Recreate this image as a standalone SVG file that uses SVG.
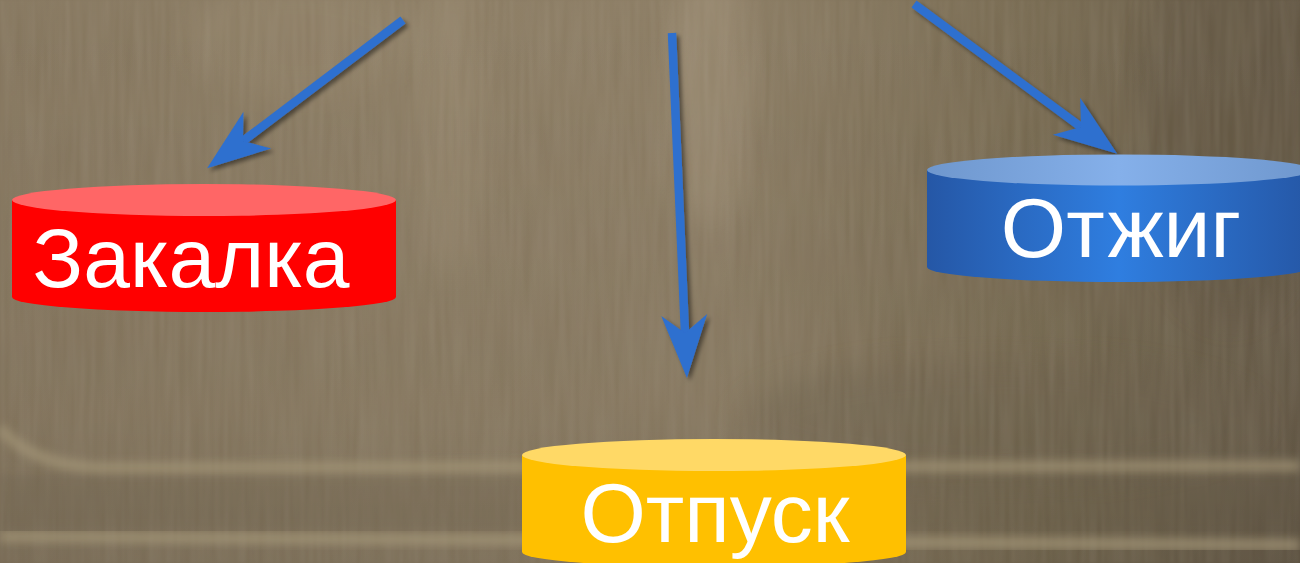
<svg xmlns="http://www.w3.org/2000/svg" width="1300" height="563" viewBox="0 0 1300 563">
  <defs>
    <style>
      .label { font-family: "Liberation Sans", Arial, sans-serif; font-size: 84px; fill: #ffffff; text-anchor: middle; }
      .conn { fill: none; stroke: #2e6fcf; stroke-width: 8.5; stroke-linecap: butt; marker-end: url(#head); }
    </style>
    <linearGradient id="bgBase" x1="0" y1="0" x2="1" y2="0">
      <stop offset="0" stop-color="#85765e"/>
      <stop offset="0.3" stop-color="#8a7b62"/>
      <stop offset="0.55" stop-color="#8b7c63"/>
      <stop offset="0.8" stop-color="#766950"/>
      <stop offset="1" stop-color="#665a47"/>
    </linearGradient>
    <linearGradient id="bgShade" x1="0" y1="0" x2="0" y2="1">
      <stop offset="0" stop-color="#000" stop-opacity="0"/>
      <stop offset="0.75" stop-color="#000" stop-opacity="0.04"/>
      <stop offset="1" stop-color="#000" stop-opacity="0.1"/>
    </linearGradient>
    <filter id="soft" x="-20%" y="-20%" width="140%" height="140%">
      <feGaussianBlur stdDeviation="14"/>
    </filter>
    <filter id="softBand" x="-5%" y="-50%" width="110%" height="200%">
      <feGaussianBlur stdDeviation="5"/>
    </filter>
    <filter id="grain" x="0" y="0" width="100%" height="100%">
      <feTurbulence type="fractalNoise" baseFrequency="0.2 0.01" numOctaves="2" seed="7" result="n"/>
      <feColorMatrix in="n" type="matrix" values="0 0 0 0 0.55  0 0 0 0 0.49  0 0 0 0 0.40  0 0 0 0.22 -0.04"/>
      <feGaussianBlur stdDeviation="0.8"/>
    </filter>
    <filter id="shadow" x="-20%" y="-20%" width="140%" height="140%">
      <feDropShadow dx="3" dy="3" stdDeviation="2" flood-color="#000" flood-opacity="0.45"/>
    </filter>
    <marker id="head" markerUnits="userSpaceOnUse" viewBox="-66 -26 70 52" markerWidth="70" markerHeight="52" refX="-45" refY="0" orient="auto">
      <path d="M0,0 L-63,-23 L-45,0 L-63,23 Z" fill="#2e6fcf"/>
    </marker>
    <!-- cylinder fills -->
    <linearGradient id="blueBody" x1="0" y1="0" x2="1" y2="0">
      <stop offset="0" stop-color="#2557a6"/>
      <stop offset="0.5" stop-color="#2f7ee0"/>
      <stop offset="1" stop-color="#2557a6"/>
    </linearGradient>
    <linearGradient id="blueTop" x1="0" y1="0" x2="1" y2="0">
      <stop offset="0" stop-color="#6f97cd"/>
      <stop offset="0.5" stop-color="#85b0ea"/>
      <stop offset="1" stop-color="#6f97cd"/>
    </linearGradient>
  </defs>

  <!-- board background -->
  <g id="background">
    <rect width="1300" height="563" fill="url(#bgBase)"/>
    <ellipse cx="710" cy="90" rx="40" ry="140" fill="#a3937a" opacity="0.45" filter="url(#soft)"/>
    <ellipse cx="450" cy="120" rx="35" ry="160" fill="#9e8e74" opacity="0.35" filter="url(#soft)"/>
    <ellipse cx="300" cy="40" rx="120" ry="60" fill="#9a8a70" opacity="0.3" filter="url(#soft)"/>
    <ellipse cx="1230" cy="120" rx="90" ry="200" fill="#5e5241" opacity="0.45" filter="url(#soft)"/>
    <ellipse cx="1000" cy="420" rx="260" ry="60" fill="#6b5e4b" opacity="0.35" filter="url(#soft)"/>
    <rect width="1300" height="563" filter="url(#grain)"/>
    <rect width="1300" height="563" fill="url(#bgShade)"/>
    <!-- chalk-tray ledges -->
    <path d="M0,428 C20,452 50,465 100,468 L1300,466" fill="none" stroke="#a69879" stroke-width="11" opacity="0.7" filter="url(#softBand)"/>
    <path d="M0,536 L1300,545" fill="none" stroke="#a69879" stroke-width="12" opacity="0.7" filter="url(#softBand)"/>
    <rect x="0" y="475" width="1300" height="55" fill="#5f5442" opacity="0.18" filter="url(#softBand)"/>
  </g>

  <!-- connectors -->
  <g id="connectors" filter="url(#shadow)">
    <path class="conn" d="M403,20 L243,141"/>
    <path class="conn" d="M672,33 L685,333"/>
    <path class="conn" d="M914,4 L1081,127"/>
  </g>

  <g id="node-zakalka">
    <path d="M12,200 L12,297 A192,15 0 0 0 396,297 L396,200 Z" fill="#ff0000"/>
    <ellipse cx="204" cy="200" rx="192" ry="16" fill="#ff6666"/>
    <text class="label" x="191" y="287">Закалка</text>
  </g>

  <g id="node-otzhig">
    <path d="M927,170 L927,267 A192,15 0 0 0 1311,267 L1311,170 Z" fill="url(#blueBody)"/>
    <ellipse cx="1119" cy="170" rx="192" ry="15.5" fill="url(#blueTop)"/>
    <text class="label" x="1121" y="257">Отжиг</text>
  </g>

  <g id="node-otpusk">
    <path d="M522,455 L522,552 A192,15 0 0 0 906,552 L906,455 Z" fill="#ffc000"/>
    <ellipse cx="714" cy="455" rx="192" ry="16" fill="#ffd966"/>
    <text class="label" x="715" y="542">Отпуск</text>
  </g>
</svg>
